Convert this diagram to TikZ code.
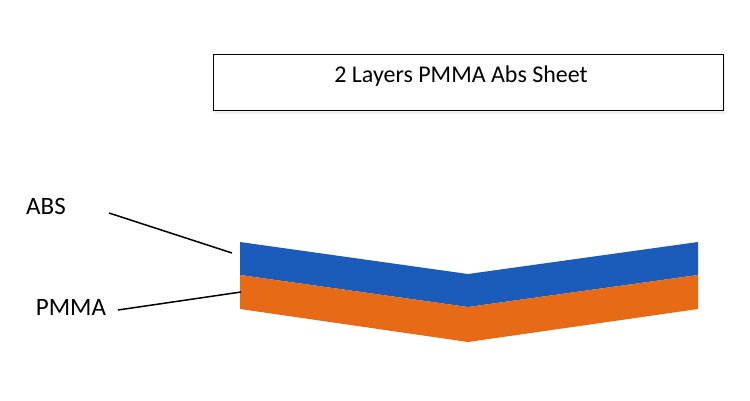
\documentclass[tikz,border=0pt]{standalone}
\usepackage{fontspec}
\setmainfont{Carlito}
\usetikzlibrary{shadows}
\definecolor{absblue}{RGB}{27,91,185}
\definecolor{pmmaorange}{RGB}{231,106,23}
\begin{document}
\begin{tikzpicture}[x=1pt, y=-1pt,
	l/.style={font=\fontsize{25}{28}\selectfont, inner sep=0},
	lead/.style={line width=1.5pt}]
	\useasboundingbox (0,0) rectangle (750,400);
	\node[draw, line width=1pt, minimum width=510pt, minimum height=56pt, fill=white,
		drop shadow={opacity=0.12, shadow xshift=2pt, shadow yshift=-4pt}] (title) at (468,82) {};
	\node[font=\fontsize{24}{28}\selectfont] (titletext) at (461,76) {2 Layers PMMA Abs Sheet};

	% the two layers
	\coordinate (tl) at (240,242); \coordinate (tm) at (468,274); \coordinate (tr) at (698,242);
	\coordinate (ml) at (240,275); \coordinate (mm) at (468,307); \coordinate (mr) at (698,275);
	\coordinate (bl) at (240,309); \coordinate (bm) at (468,342); \coordinate (br) at (698,309);
	\fill[absblue] (tl) -- (tm) -- (tr) -- (mr) -- (mm) -- (ml) -- cycle;
	\fill[pmmaorange] (ml) -- (mm) -- (mr) -- (br) -- (bm) -- (bl) -- cycle;

	\node[l] (abs) at (46,206) {ABS};
	\node[l] (pmma) at (71,307) {PMMA};
	\coordinate (abs from) at (109,213); \coordinate (abs to) at (232,253);
	\coordinate (pmma from) at (118,310); \coordinate (pmma to) at (241,292);
	\draw[lead] (abs from) -- (abs to);
	\draw[lead] (pmma from) -- (pmma to);
\end{tikzpicture}
\end{document}
